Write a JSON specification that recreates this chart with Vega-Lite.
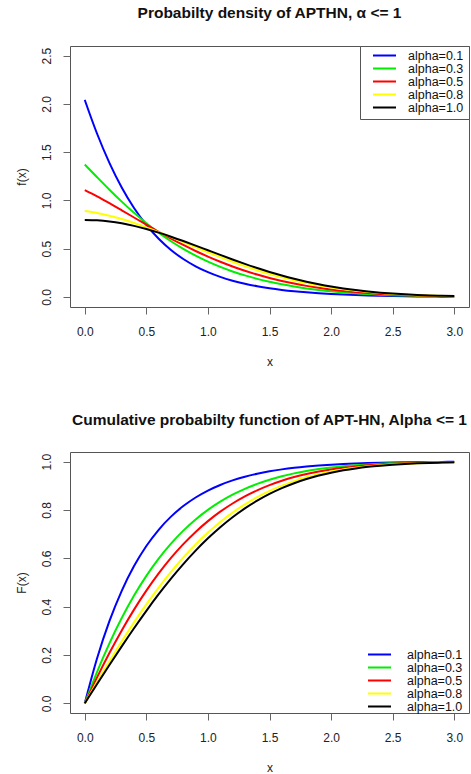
{
  "$schema": "https://vega.github.io/schema/vega-lite/v6.json",
  "padding": {"left": 14, "top": 5, "right": 0, "bottom": 0},
  "background": "white",
  "config": {
    "font": "Liberation Sans",
    "view": {"stroke": "#555", "strokeWidth": 1},
    "axis": {"grid": false, "domain": false, "tickColor": "#666", "tickSize": 7, "labelFontSize": 12, "labelColor": "#222", "titleFontSize": 12, "titleFontWeight": "normal", "titleColor": "#222"},
    "axisX": {"labelPadding": 12, "titlePadding": 19},
    "axisY": {"labelAngle": -90, "labelPadding": 9.5, "titlePadding": 12.3},
    "title": {"fontSize": 15.5, "fontWeight": "bold", "anchor": "middle", "baseline": "alphabetic", "offset": 24, "color": "#111"},
    "legend": {"orient": "none", "title": null, "symbolType": "stroke", "symbolSize": 529, "symbolStrokeWidth": 2, "labelFontSize": 12.5, "labelColor": "#111", "clipHeight": 9, "rowPadding": 0, "symbolOffset": 7, "labelOffset": 11}
  },
  "datasets": {
    "d": [
      {"s":"alpha=0.1","x":0,"f":2.0413,"F":0},{"s":"alpha=0.1","x":0.1,"f":1.6908,"F":0.1862},{"s":"alpha=0.1","x":0.2,"f":1.3891,"F":0.3398},{"s":"alpha=0.1","x":0.3,"f":1.1338,"F":0.4656},{"s":"alpha=0.1","x":0.4,"f":0.9211,"F":0.568},{"s":"alpha=0.1","x":0.5,"f":0.746,"F":0.651},{"s":"alpha=0.1","x":0.6,"f":0.6029,"F":0.7182},{"s":"alpha=0.1","x":0.7,"f":0.4869,"F":0.7725},{"s":"alpha=0.1","x":0.8,"f":0.3932,"F":0.8163},{"s":"alpha=0.1","x":0.9,"f":0.3178,"F":0.8518},{"s":"alpha=0.1","x":1.0,"f":0.2571,"F":0.8804},{"s":"alpha=0.1","x":1.1,"f":0.2082,"F":0.9036},{"s":"alpha=0.1","x":1.2,"f":0.1688,"F":0.9224},{"s":"alpha=0.1","x":1.3,"f":0.137,"F":0.9376},{"s":"alpha=0.1","x":1.4,"f":0.1111,"F":0.9499},{"s":"alpha=0.1","x":1.5,"f":0.0902,"F":0.96},{"s":"alpha=0.1","x":1.6,"f":0.0731,"F":0.9681},{"s":"alpha=0.1","x":1.7,"f":0.0591,"F":0.9747},{"s":"alpha=0.1","x":1.8,"f":0.0477,"F":0.98},{"s":"alpha=0.1","x":1.9,"f":0.0383,"F":0.9843},{"s":"alpha=0.1","x":2.0,"f":0.0307,"F":0.9877},{"s":"alpha=0.1","x":2.1,"f":0.0244,"F":0.9905},{"s":"alpha=0.1","x":2.2,"f":0.0194,"F":0.9926},{"s":"alpha=0.1","x":2.3,"f":0.0152,"F":0.9944},{"s":"alpha=0.1","x":2.4,"f":0.0119,"F":0.9957},{"s":"alpha=0.1","x":2.5,"f":0.0092,"F":0.9968},{"s":"alpha=0.1","x":2.6,"f":0.0071,"F":0.9976},{"s":"alpha=0.1","x":2.7,"f":0.0054,"F":0.9982},{"s":"alpha=0.1","x":2.8,"f":0.0041,"F":0.9987},{"s":"alpha=0.1","x":2.9,"f":0.0031,"F":0.999},{"s":"alpha=0.1","x":3.0,"f":0.0023,"F":0.9993},
      {"s":"alpha=0.3","x":0,"f":1.3723,"F":0},{"s":"alpha=0.3","x":0.1,"f":1.2406,"F":0.1306},{"s":"alpha=0.3","x":0.2,"f":1.1115,"F":0.2482},{"s":"alpha=0.3","x":0.3,"f":0.9877,"F":0.3531},{"s":"alpha=0.3","x":0.4,"f":0.8713,"F":0.446},{"s":"alpha=0.3","x":0.5,"f":0.7638,"F":0.5276},{"s":"alpha=0.3","x":0.6,"f":0.6656,"F":0.5991},{"s":"alpha=0.3","x":0.7,"f":0.5771,"F":0.6611},{"s":"alpha=0.3","x":0.8,"f":0.4979,"F":0.7148},{"s":"alpha=0.3","x":0.9,"f":0.4277,"F":0.761},{"s":"alpha=0.3","x":1.0,"f":0.3659,"F":0.8006},{"s":"alpha=0.3","x":1.1,"f":0.3117,"F":0.8344},{"s":"alpha=0.3","x":1.2,"f":0.2644,"F":0.8632},{"s":"alpha=0.3","x":1.3,"f":0.2233,"F":0.8875},{"s":"alpha=0.3","x":1.4,"f":0.1877,"F":0.908},{"s":"alpha=0.3","x":1.5,"f":0.157,"F":0.9252},{"s":"alpha=0.3","x":1.6,"f":0.1306,"F":0.9396},{"s":"alpha=0.3","x":1.7,"f":0.1081,"F":0.9515},{"s":"alpha=0.3","x":1.8,"f":0.0888,"F":0.9613},{"s":"alpha=0.3","x":1.9,"f":0.0726,"F":0.9693},{"s":"alpha=0.3","x":2.0,"f":0.0589,"F":0.9759},{"s":"alpha=0.3","x":2.1,"f":0.0474,"F":0.9812},{"s":"alpha=0.3","x":2.2,"f":0.0379,"F":0.9854},{"s":"alpha=0.3","x":2.3,"f":0.03,"F":0.9888},{"s":"alpha=0.3","x":2.4,"f":0.0236,"F":0.9915},{"s":"alpha=0.3","x":2.5,"f":0.0184,"F":0.9935},{"s":"alpha=0.3","x":2.6,"f":0.0142,"F":0.9952},{"s":"alpha=0.3","x":2.7,"f":0.0108,"F":0.9964},{"s":"alpha=0.3","x":2.8,"f":0.0082,"F":0.9974},{"s":"alpha=0.3","x":2.9,"f":0.0062,"F":0.9981},{"s":"alpha=0.3","x":3.0,"f":0.0046,"F":0.9986},
      {"s":"alpha=0.5","x":0,"f":1.1061,"F":0},{"s":"alpha=0.5","x":0.1,"f":1.0415,"F":0.1074},{"s":"alpha=0.5","x":0.2,"f":0.9714,"F":0.2081},{"s":"alpha=0.5","x":0.3,"f":0.898,"F":0.3016},{"s":"alpha=0.5","x":0.4,"f":0.8232,"F":0.3877},{"s":"alpha=0.5","x":0.5,"f":0.7486,"F":0.4662},{"s":"alpha=0.5","x":0.6,"f":0.6756,"F":0.5374},{"s":"alpha=0.5","x":0.7,"f":0.6054,"F":0.6015},{"s":"alpha=0.5","x":0.8,"f":0.5387,"F":0.6586},{"s":"alpha=0.5","x":0.9,"f":0.4761,"F":0.7093},{"s":"alpha=0.5","x":1.0,"f":0.418,"F":0.754},{"s":"alpha=0.5","x":1.1,"f":0.3645,"F":0.7931},{"s":"alpha=0.5","x":1.2,"f":0.3158,"F":0.827},{"s":"alpha=0.5","x":1.3,"f":0.2717,"F":0.8564},{"s":"alpha=0.5","x":1.4,"f":0.2322,"F":0.8815},{"s":"alpha=0.5","x":1.5,"f":0.197,"F":0.903},{"s":"alpha=0.5","x":1.6,"f":0.1659,"F":0.9211},{"s":"alpha=0.5","x":1.7,"f":0.1387,"F":0.9363},{"s":"alpha=0.5","x":1.8,"f":0.115,"F":0.9489},{"s":"alpha=0.5","x":1.9,"f":0.0947,"F":0.9594},{"s":"alpha=0.5","x":2.0,"f":0.0772,"F":0.968},{"s":"alpha=0.5","x":2.1,"f":0.0625,"F":0.9749},{"s":"alpha=0.5","x":2.2,"f":0.0501,"F":0.9805},{"s":"alpha=0.5","x":2.3,"f":0.0399,"F":0.985},{"s":"alpha=0.5","x":2.4,"f":0.0314,"F":0.9886},{"s":"alpha=0.5","x":2.5,"f":0.0245,"F":0.9914},{"s":"alpha=0.5","x":2.6,"f":0.019,"F":0.9935},{"s":"alpha=0.5","x":2.7,"f":0.0145,"F":0.9952},{"s":"alpha=0.5","x":2.8,"f":0.011,"F":0.9964},{"s":"alpha=0.5","x":2.9,"f":0.0083,"F":0.9974},{"s":"alpha=0.5","x":3.0,"f":0.0062,"F":0.9981},
      {"s":"alpha=0.8","x":0,"f":0.8902,"F":0},{"s":"alpha=0.8","x":0.1,"f":0.8702,"F":0.0881},{"s":"alpha=0.8","x":0.2,"f":0.8423,"F":0.1738},{"s":"alpha=0.8","x":0.3,"f":0.8074,"F":0.2563},{"s":"alpha=0.8","x":0.4,"f":0.7667,"F":0.3351},{"s":"alpha=0.8","x":0.5,"f":0.7213,"F":0.4095},{"s":"alpha=0.8","x":0.6,"f":0.6723,"F":0.4792},{"s":"alpha=0.8","x":0.7,"f":0.621,"F":0.5439},{"s":"alpha=0.8","x":0.8,"f":0.5684,"F":0.6034},{"s":"alpha=0.8","x":0.9,"f":0.5157,"F":0.6576},{"s":"alpha=0.8","x":1.0,"f":0.4637,"F":0.7065},{"s":"alpha=0.8","x":1.1,"f":0.4132,"F":0.7504},{"s":"alpha=0.8","x":1.2,"f":0.3649,"F":0.7892},{"s":"alpha=0.8","x":1.3,"f":0.3194,"F":0.8234},{"s":"alpha=0.8","x":1.4,"f":0.2771,"F":0.8532},{"s":"alpha=0.8","x":1.5,"f":0.2382,"F":0.879},{"s":"alpha=0.8","x":1.6,"f":0.2029,"F":0.901},{"s":"alpha=0.8","x":1.7,"f":0.1713,"F":0.9197},{"s":"alpha=0.8","x":1.8,"f":0.1432,"F":0.9354},{"s":"alpha=0.8","x":1.9,"f":0.1186,"F":0.9484},{"s":"alpha=0.8","x":2.0,"f":0.0974,"F":0.9592},{"s":"alpha=0.8","x":2.1,"f":0.0792,"F":0.968},{"s":"alpha=0.8","x":2.2,"f":0.0637,"F":0.9751},{"s":"alpha=0.8","x":2.3,"f":0.0508,"F":0.9809},{"s":"alpha=0.8","x":2.4,"f":0.0401,"F":0.9854},{"s":"alpha=0.8","x":2.5,"f":0.0314,"F":0.9889},{"s":"alpha=0.8","x":2.6,"f":0.0243,"F":0.9917},{"s":"alpha=0.8","x":2.7,"f":0.0186,"F":0.9938},{"s":"alpha=0.8","x":2.8,"f":0.0142,"F":0.9955},{"s":"alpha=0.8","x":2.9,"f":0.0106,"F":0.9967},{"s":"alpha=0.8","x":3.0,"f":0.0079,"F":0.9976},
      {"s":"alpha=1.0","x":0,"f":0.7979,"F":0},{"s":"alpha=1.0","x":0.1,"f":0.7939,"F":0.0797},{"s":"alpha=1.0","x":0.2,"f":0.7821,"F":0.1585},{"s":"alpha=1.0","x":0.3,"f":0.7628,"F":0.2358},{"s":"alpha=1.0","x":0.4,"f":0.7365,"F":0.3108},{"s":"alpha=1.0","x":0.5,"f":0.7041,"F":0.3829},{"s":"alpha=1.0","x":0.6,"f":0.6664,"F":0.4515},{"s":"alpha=1.0","x":0.7,"f":0.6245,"F":0.5161},{"s":"alpha=1.0","x":0.8,"f":0.5794,"F":0.5763},{"s":"alpha=1.0","x":0.9,"f":0.5322,"F":0.6319},{"s":"alpha=1.0","x":1.0,"f":0.4839,"F":0.6827},{"s":"alpha=1.0","x":1.1,"f":0.4357,"F":0.7287},{"s":"alpha=1.0","x":1.2,"f":0.3884,"F":0.7699},{"s":"alpha=1.0","x":1.3,"f":0.3427,"F":0.8064},{"s":"alpha=1.0","x":1.4,"f":0.2995,"F":0.8385},{"s":"alpha=1.0","x":1.5,"f":0.259,"F":0.8664},{"s":"alpha=1.0","x":1.6,"f":0.2218,"F":0.8904},{"s":"alpha=1.0","x":1.7,"f":0.1881,"F":0.9109},{"s":"alpha=1.0","x":1.8,"f":0.1579,"F":0.9281},{"s":"alpha=1.0","x":1.9,"f":0.1312,"F":0.9426},{"s":"alpha=1.0","x":2.0,"f":0.108,"F":0.9545},{"s":"alpha=1.0","x":2.1,"f":0.088,"F":0.9643},{"s":"alpha=1.0","x":2.2,"f":0.071,"F":0.9722},{"s":"alpha=1.0","x":2.3,"f":0.0567,"F":0.9786},{"s":"alpha=1.0","x":2.4,"f":0.0448,"F":0.9836},{"s":"alpha=1.0","x":2.5,"f":0.0351,"F":0.9876},{"s":"alpha=1.0","x":2.6,"f":0.0272,"F":0.9907},{"s":"alpha=1.0","x":2.7,"f":0.0208,"F":0.9931},{"s":"alpha=1.0","x":2.8,"f":0.0158,"F":0.9949},{"s":"alpha=1.0","x":2.9,"f":0.0119,"F":0.9963},{"s":"alpha=1.0","x":3.0,"f":0.0089,"F":0.9973}
    ]
  },
  "bounds": "flush",
  "spacing": 145,
  "resolve": {"legend": {"color": "independent"}},
  "vconcat": [
    {
      "width": 399,
      "height": 261,
      "title": "Probabilty density of APTHN, α <= 1",
      "data": {"name": "d"},
      "mark": {"type": "line", "strokeWidth": 2, "interpolate": "monotone"},
      "encoding": {
        "x": {"field": "x", "type": "quantitative", "scale": {"domain": [-0.12, 3.12], "nice": false, "zero": false}, "axis": {"values": [0, 0.5, 1, 1.5, 2, 2.5, 3], "format": ".1f", "title": "x"}},
        "y": {"field": "f", "type": "quantitative", "scale": {"domain": [-0.104, 2.6], "nice": false, "zero": false}, "axis": {"values": [0, 0.5, 1, 1.5, 2, 2.5], "format": ".1f", "title": "f(x)"}},
        "color": {"field": "s", "type": "nominal", "scale": {"domain": ["alpha=0.1", "alpha=0.3", "alpha=0.5", "alpha=0.8", "alpha=1.0"], "range": ["#0000FF", "#00EE00", "#FF0000", "#FFFF00", "#000000"]}, "legend": {"legendX": 290, "legendY": 0, "strokeColor": "#555", "fillColor": "white", "padding": 5}}
      }
    },
    {
      "width": 399,
      "height": 261,
      "title": "Cumulative probabilty function of APT-HN, Alpha <= 1",
      "data": {"name": "d"},
      "mark": {"type": "line", "strokeWidth": 2, "interpolate": "monotone"},
      "encoding": {
        "x": {"field": "x", "type": "quantitative", "scale": {"domain": [-0.12, 3.12], "nice": false, "zero": false}, "axis": {"values": [0, 0.5, 1, 1.5, 2, 2.5, 3], "format": ".1f", "title": "x"}},
        "y": {"field": "F", "type": "quantitative", "scale": {"domain": [-0.04, 1.04], "nice": false, "zero": false}, "axis": {"values": [0, 0.2, 0.4, 0.6, 0.8, 1], "format": ".1f", "title": "F(x)"}},
        "color": {"field": "s", "type": "nominal", "scale": {"domain": ["alpha=0.1", "alpha=0.3", "alpha=0.5", "alpha=0.8", "alpha=1.0"], "range": ["#0000FF", "#00EE00", "#FF0000", "#FFFF00", "#000000"]}, "legend": {"legendX": 290, "legendY": 198, "padding": 0, "labelOffset": 15}}
      }
    }
  ]
}
